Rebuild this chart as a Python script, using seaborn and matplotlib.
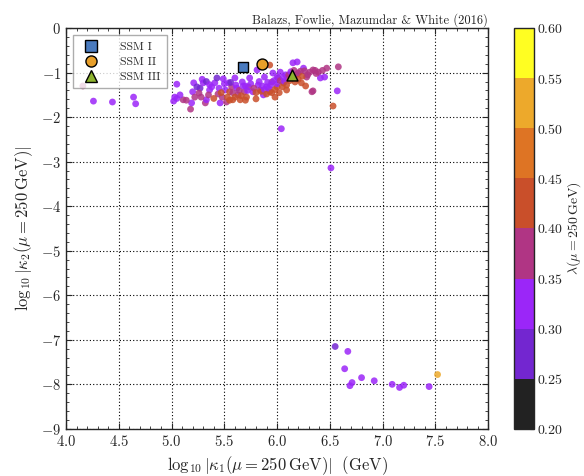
import matplotlib
matplotlib.use("Agg")
import matplotlib.pyplot as plt
import seaborn as sns
import numpy as np
from matplotlib.colors import ListedColormap, Normalize
from matplotlib.cm import ScalarMappable
from matplotlib.lines import Line2D
from matplotlib.ticker import MultipleLocator, FormatStrFormatter

# data: log10|kappa1|, log10|kappa2|, lambda
kappa1 = [4.16, 4.26, 4.44, 4.64, 4.66,
          5.03, 5.02, 5.05, 5.11, 5.18, 5.19, 5.20, 5.21, 5.24, 5.27, 5.26, 5.30, 5.32, 5.33,
          5.36, 5.41, 5.43, 5.44, 5.46, 5.49, 5.51, 5.52, 5.54, 5.55, 5.57, 5.58, 5.60, 5.62,
          5.63, 5.65, 5.67, 5.69, 5.71, 5.73, 5.74, 5.77, 5.80, 5.81, 5.82, 5.84, 5.87, 5.88,
          5.90, 5.93, 5.93, 5.95, 5.96, 5.98, 6.00, 6.01, 6.03, 6.06, 6.08, 6.09, 6.10, 6.17,
          6.19, 6.20, 6.23, 6.25, 6.28, 6.31, 6.34, 6.39, 6.41, 6.34, 6.47, 6.57, 6.53, 6.58,
          6.15, 6.33, 6.45,
          5.70, 5.72, 5.75, 5.78, 5.80, 5.83, 5.85, 5.86, 5.88, 5.90, 5.91, 5.92, 5.94, 5.95,
          5.97, 5.98, 6.00, 6.00, 6.02, 6.03, 6.05, 6.06, 6.07, 6.09, 6.11, 6.12, 6.13, 6.15,
          6.16, 6.18, 6.20, 6.22, 6.24, 6.26, 6.27, 6.29, 6.36, 6.37,
          5.05, 5.08, 5.14, 5.22, 5.28, 5.35, 5.38, 5.40, 5.45, 5.48, 5.50, 5.53, 5.56, 5.58,
          5.60, 5.61, 5.64, 5.66, 5.68, 5.70, 5.55, 5.47, 5.29, 5.33, 5.36, 6.43,
          6.04, 6.51,
          6.55, 6.67, 6.64, 6.71, 6.69, 6.80, 6.92, 7.09, 7.16, 7.20, 7.44, 7.52]
kappa2 = [-1.30, -1.64, -1.66, -1.55, -1.70,
          -1.55, -1.64, -1.26, -1.61, -1.82, -1.68, -1.43, -1.23, -1.32, -1.35, -1.46, -1.23, -1.68, -1.61,
          -1.39, -1.23, -1.12, -1.48, -1.68, -1.14, -1.39, -1.66, -1.23, -1.43, -1.32, -1.61, -1.12, -1.35,
          -1.50, -1.61, -1.21, -1.43, -1.55, -1.32, -1.12, -1.43, -1.59, -0.94, -1.28, -1.39, -1.50, -1.10,
          -1.32, -0.83, -1.43, -1.21, -1.01, -1.55, -1.32, -1.12, -0.99, -1.23, -1.05, -1.39, -1.12, -1.21,
          -0.76, -1.01, -1.23, -0.90, -1.10, -0.99, -0.94, -0.99, -1.12, -1.41, -0.90, -1.41, -1.75, -0.87,
          -0.78, -1.43, -1.10,
          -1.30, -1.40, -1.25, -1.35, -1.45, -1.20, -1.42, -1.30, -1.38, -1.48, -1.22, -1.35, -1.28, -1.45,
          -1.18, -1.38, -1.10, -1.25, -1.45, -1.18, -1.32, -1.10, -1.20, -1.28, -1.05, -1.18, -0.98, -1.12,
          -0.95, -1.05, -1.15, -0.97, -1.08, -0.96, -1.30, -1.05, -0.95, -1.02,
          -1.58, -1.50, -1.62, -1.55, -1.55, -1.50, -1.32, -1.58, -1.35, -1.55, -1.25, -1.55, -1.22, -1.45,
          -1.55, -1.28, -1.40, -1.52, -1.30, -1.62, -1.62, -1.45, -1.15, -1.20, -1.27, -0.95,
          -2.26, -3.14,
          -7.15, -7.26, -7.65, -7.96, -8.03, -7.85, -7.92, -8.00, -8.07, -8.02, -8.05, -7.78]
lam = [0.37, 0.32, 0.32, 0.32, 0.32,
       0.32, 0.32, 0.32, 0.37, 0.37, 0.32, 0.32, 0.32, 0.27, 0.27, 0.37, 0.32, 0.37, 0.32,
       0.32, 0.32, 0.27, 0.37, 0.32, 0.32, 0.32, 0.37, 0.32, 0.42, 0.37, 0.42, 0.32, 0.32,
       0.37, 0.42, 0.32, 0.37, 0.42, 0.37, 0.32, 0.32, 0.42, 0.32, 0.32, 0.37, 0.32, 0.32,
       0.32, 0.42, 0.42, 0.37, 0.32, 0.42, 0.42, 0.37, 0.32, 0.42, 0.32, 0.42, 0.37, 0.42,
       0.32, 0.37, 0.42, 0.32, 0.37, 0.37, 0.37, 0.37, 0.32, 0.37, 0.37, 0.32, 0.42, 0.37,
       0.32, 0.37, 0.32,
       0.32, 0.32, 0.32, 0.37, 0.42, 0.32, 0.42, 0.32, 0.32, 0.42, 0.32, 0.32, 0.32, 0.42,
       0.32, 0.42, 0.32, 0.32, 0.42, 0.37, 0.42, 0.32, 0.32, 0.42, 0.37, 0.42, 0.32, 0.42,
       0.37, 0.37, 0.42, 0.37, 0.42, 0.37, 0.42, 0.37, 0.37, 0.37,
       0.32, 0.32, 0.37, 0.37, 0.37, 0.37, 0.32, 0.42, 0.32, 0.37, 0.32, 0.42, 0.27, 0.37,
       0.42, 0.32, 0.37, 0.42, 0.32, 0.42, 0.42, 0.42, 0.32, 0.27, 0.32, 0.37,
       0.32, 0.32,
       0.27, 0.32, 0.32, 0.32, 0.32, 0.32, 0.32, 0.32, 0.32, 0.32, 0.32, 0.52]

# benchmark points
ssm_names = ["SSM I", "SSM II", "SSM III"]
ssm_k1 = [5.68, 5.86, 6.14]
ssm_k2 = [-0.87, -0.81, -1.05]
ssm_markers = ["s", "o", "^"]
ssm_colors = ["#4a7bbf", "#e89f2a", "#8db32e"]

level_colors = ["#222222", "#7326d0", "#9b26f8", "#b03584",
                "#c94f2a", "#de7424", "#eda92b", "#fffe22"]
cbar_ticks = [0.20, 0.25, 0.30, 0.35, 0.40, 0.45, 0.50, 0.55, 0.60]

sns.set_style("ticks")
plt.rcParams["font.family"] = "serif"
plt.rcParams["font.serif"] = ["cmr10", "DejaVu Serif"]
plt.rcParams["mathtext.fontset"] = "cm"
plt.rcParams["axes.formatter.use_mathtext"] = True
plt.rcParams["axes.unicode_minus"] = True

cmap = ListedColormap(level_colors)
norm = Normalize(0.2, 0.6)

fig = plt.figure(figsize=(5.84, 4.76), dpi=100)
ax = fig.add_axes([0.113, 0.099, 0.723, 0.842])
cax = fig.add_axes([0.880, 0.099, 0.034, 0.842])

sns.scatterplot(x=kappa1, y=kappa2, hue=lam, palette=cmap, hue_norm=norm,
                s=24, alpha=0.85, linewidth=0, legend=False, ax=ax, zorder=3)

handles = []
for name, k1, k2, m, c in zip(ssm_names, ssm_k1, ssm_k2, ssm_markers, ssm_colors):
    ax.scatter(k1, k2, marker=m, s=62, color=c, edgecolor="black", linewidth=1.0, zorder=5)
    handles.append(Line2D([], [], marker=m, linestyle="", markersize=8,
                          markerfacecolor=c, markeredgecolor="black", markeredgewidth=1.0, label=name))

leg = ax.legend(handles=handles, loc="upper left", fontsize=8.5, frameon=True, fancybox=False,
                handletextpad=1.4, borderpad=0.55, labelspacing=0.4, bbox_to_anchor=(0.003, 0.997))
leg.get_frame().set_edgecolor("#999999")
leg.get_frame().set_linewidth(1.0)
leg.set_zorder(6)

ax.set_xlim(4.0, 8.0)
ax.set_ylim(-9, 0)
ax.xaxis.set_major_locator(MultipleLocator(0.5))
ax.xaxis.set_minor_locator(MultipleLocator(0.1))
ax.yaxis.set_major_locator(MultipleLocator(1))
ax.yaxis.set_minor_locator(MultipleLocator(0.2))
ax.xaxis.set_major_formatter(FormatStrFormatter("$%.1f$"))
ax.yaxis.set_major_formatter(FormatStrFormatter("$%d$"))
ax.tick_params(which="both", direction="in", top=True, right=True, labelsize=10.5)
ax.tick_params(which="major", length=4)
ax.tick_params(which="minor", length=2)
ax.grid(True, which="major", linestyle=(0, (1, 2)), color="black", linewidth=0.8)
for sp in ax.spines.values():
    sp.set_linewidth(1.0)

ax.set_xlabel(r"$\log_{10}|\kappa_1(\mu = 250\,\mathrm{GeV})|\ \ (\mathrm{GeV})$", fontsize=12)
ax.set_ylabel(r"$\log_{10}|\kappa_2(\mu = 250\,\mathrm{GeV})|$", fontsize=12)
ax.set_title("Balazs, Fowlie, Mazumdar & White (2016)", loc="right", fontsize=9, pad=3)

cb = fig.colorbar(ScalarMappable(norm=norm, cmap=cmap), cax=cax, ticks=cbar_ticks)
cb.ax.yaxis.set_major_formatter(FormatStrFormatter("$%.2f$"))
cb.ax.tick_params(direction="in", length=3, labelsize=10, pad=2)
cb.set_label(r"$\lambda(\mu = 250\,\mathrm{GeV})$", fontsize=10)
cb.ax.yaxis.set_label_coords(3.05, 0.5)
cb.ax.yaxis.label.set_va("center")
cb.outline.set_linewidth(1.0)

fig.savefig("out.png", dpi=100)
